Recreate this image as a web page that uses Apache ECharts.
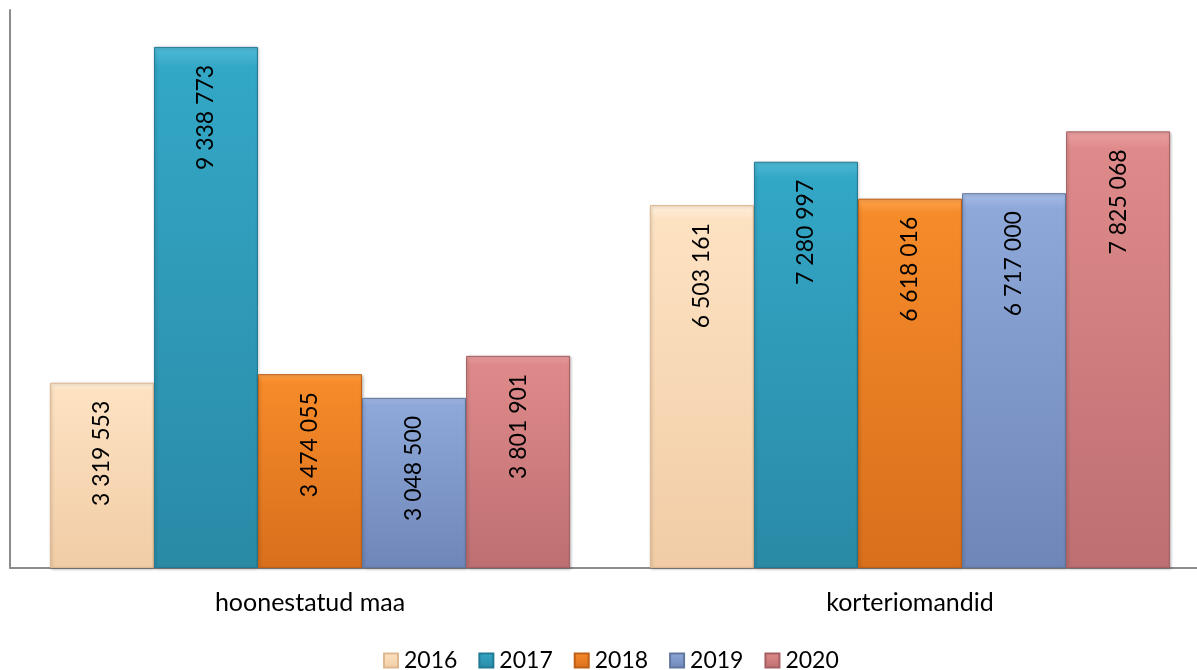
<!DOCTYPE html>
<html lang="et">
<head>
    <meta charset="utf-8">
    <title>ECharts - hoonestatud maa / korteriomandid</title>
    <style type="text/css">
        html, body { margin: 0; padding: 0; background: #fff; }
        .page { width: 1197px; height: 670px; }
    </style>
</head>
<body>

<div id="page" class="page"></div>

<script src="https://cdn.jsdelivr.net/npm/echarts@6/dist/echarts.min.js"></script>
<script>
    // andmed
    var categories = ['hoonestatud maa', 'korteriomandid'];
    var years = ['2016', '2017', '2018', '2019', '2020'];
    var values2016 = [3319553, 6503161];
    var values2017 = [9338773, 7280997];
    var values2018 = [3474055, 6618016];
    var values2019 = [3048500, 6717000];
    var values2020 = [3801901, 7825068];
    var seriesValues = [values2016, values2017, values2018, values2019, values2020];

    // värvid: [hele ülaosa, põhi, tume alaosa, ääris]
    var palette = [
        ['#fff0de', '#fde2c2', '#f1cca6', '#e0b88f'],
        ['#4fbad6', '#33a7c6', '#2a8aa6', '#237a94'],
        ['#ffa44c', '#f68b2a', '#d86f1c', '#c06016'],
        ['#a9bde6', '#8ea8da', '#6f86b8', '#62779f'],
        ['#eba0a0', '#df8a8a', '#bd6f72', '#a55f62']
    ];

    var fontName = 'Lato, "Open Sans", sans-serif';

    (function () {
        init();

        function init() {
            var myChart = echarts.init(document.getElementById('page'));
            myChart.setOption(buildOption());
        }

        function fmt(v) {
            return String(v).replace(/\B(?=(\d{3})+(?!\d))/g, ' ');
        }

        function barStyle(c) {
            return {
                color: new echarts.graphic.LinearGradient(0, 0, 0, 1, [
                    {offset: 0, color: c[0]},
                    {offset: 0.04, color: c[1]},
                    {offset: 1, color: c[2]}
                ]),
                borderColor: c[3],
                borderWidth: 1,
                shadowColor: 'rgba(0,0,0,0.25)',
                shadowBlur: 3,
                shadowOffsetX: 1,
                shadowOffsetY: 1
            };
        }

        function buildOption() {
            var series = [];
            for (var i = 0; i < years.length; i++) {
                series.push({
                    name: years[i],
                    type: 'bar',
                    barGap: '0%',
                    barCategoryGap: '13.3%',
                    itemStyle: barStyle(palette[i]),
                    label: {
                        show: true,
                        position: 'insideTop',
                        rotate: 90,
                        align: 'right',
                        verticalAlign: 'middle',
                        distance: 18,
                        color: '#000',
                        fontFamily: fontName,
                        fontSize: 23,
                        formatter: function (p) { return fmt(p.value); }
                    },
                    data: seriesValues[i]
                });
            }

            return {
                animation: false,
                color: palette.map(function (c) { return c[1]; }),
                // ristkülik ulatub paremalt üle akna serva, nagu originaalis
                grid: {left: 10, width: 1200, top: 10, bottom: 102, outerBoundsMode: 'none', containLabel: false},
                legend: {
                    top: 644,
                    left: 378,
                    icon: 'rect',
                    itemWidth: 14,
                    itemHeight: 14,
                    itemGap: 21,
                    textStyle: {fontFamily: fontName, fontSize: 23, color: '#000', padding: [0, 0, 0, 1]},
                    data: years
                },
                xAxis: {
                    type: 'category',
                    data: categories,
                    axisLine: {show: true, lineStyle: {color: '#8c8c8c', width: 2}},
                    axisTick: {show: false},
                    axisLabel: {fontFamily: fontName, fontSize: 25, color: '#000', margin: 22}
                },
                yAxis: {
                    type: 'value',
                    min: 0,
                    max: 10000000,
                    axisLine: {show: true, lineStyle: {color: '#8c8c8c', width: 2}},
                    axisTick: {show: false},
                    axisLabel: {show: false},
                    splitLine: {show: false}
                },
                series: series
            };
        }
    })();
</script>
</body>
</html>
